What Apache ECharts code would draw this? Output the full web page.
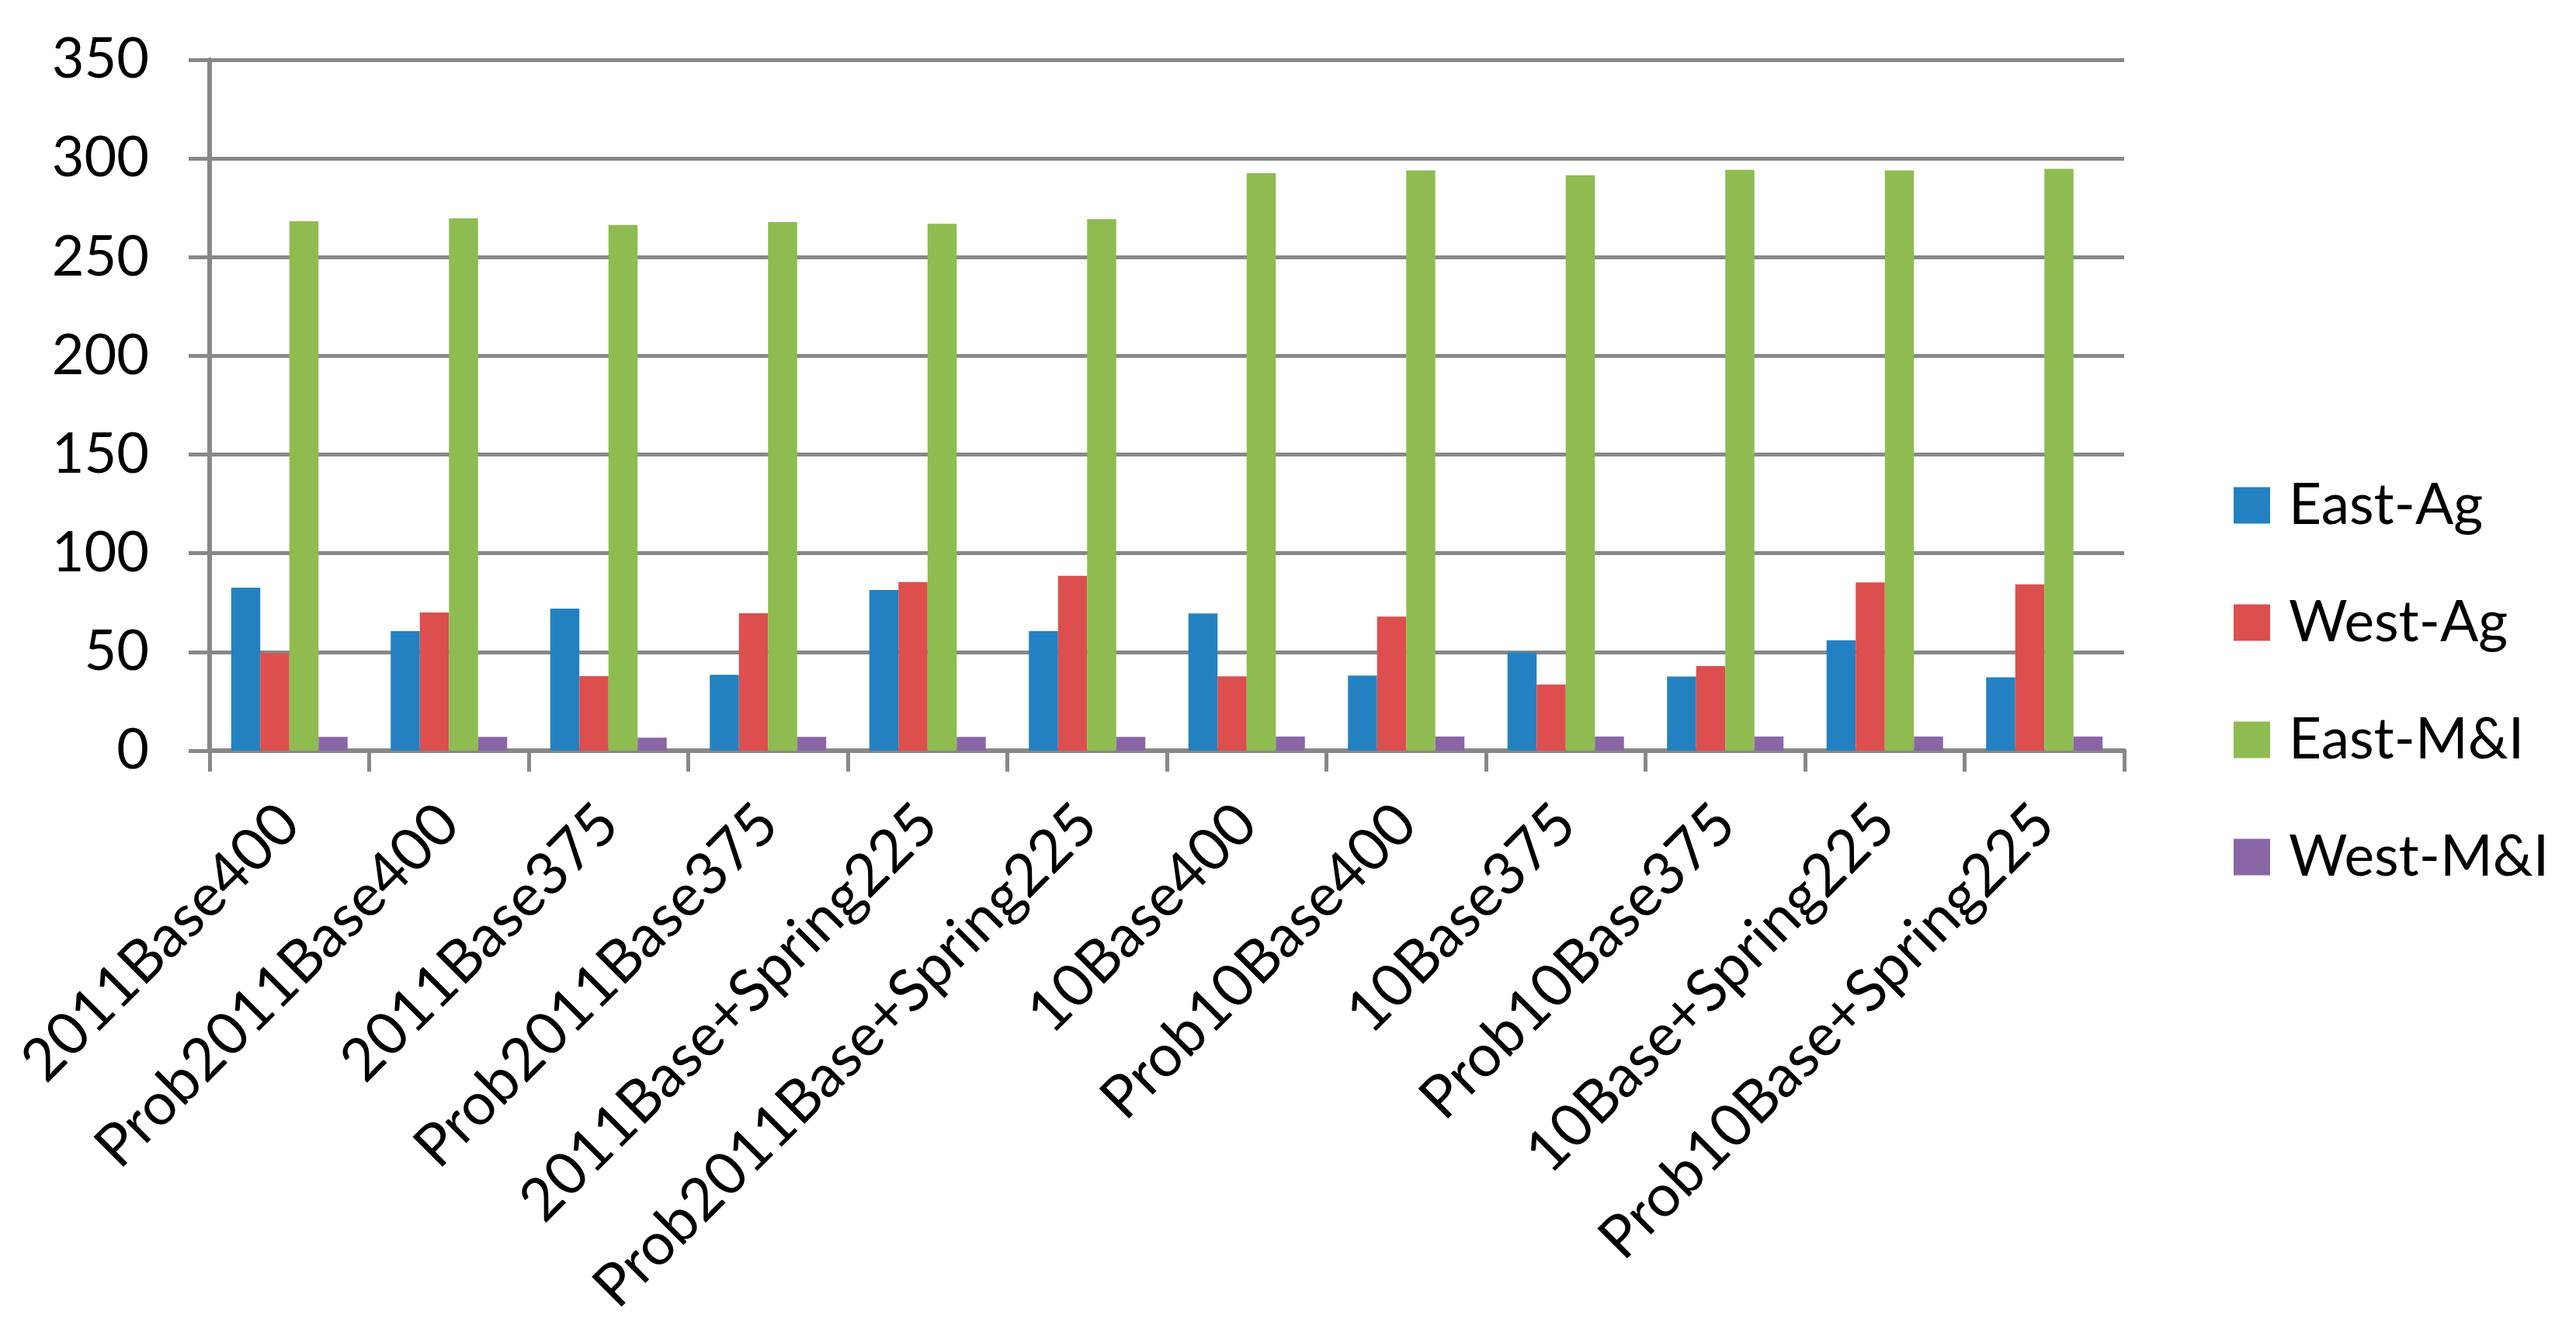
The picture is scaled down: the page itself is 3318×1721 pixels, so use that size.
<!DOCTYPE html>
<html lang="en">

<head>
    <meta charset="UTF-8">
    <script src="https://cdn.jsdelivr.net/npm/echarts@6.0.0/dist/echarts.min.js"></script>
    <title>Water allocation by scenario</title>
    <style>
        html, body { margin: 0; padding: 0; background: #fff; }
        #chart { width: 3318px; height: 1721px; }
    </style>
</head>

<body>
    <div id="chart"></div>

    <script>
        // scenarios on the x axis
        var categories = ['2011Base400', 'Prob2011Base400', '2011Base375', 'Prob2011Base375',
            '2011Base+Spring225', 'Prob2011Base+Spring225', '10Base400', 'Prob10Base400',
            '10Base375', 'Prob10Base375', '10Base+Spring225', 'Prob10Base+Spring225'];

        // values
        var eastAg = [82.6, 60.6, 72.0, 38.4, 81.4, 60.6, 69.5, 38.0, 49.8, 37.6, 55.9, 37.2];
        var westAg = [49.5, 70.0, 37.8, 69.6, 85.4, 88.6, 37.7, 67.9, 33.5, 42.9, 85.2, 84.3];
        var eastMI = [268.2, 269.7, 266.3, 267.8, 266.9, 269.3, 292.6, 294.0, 291.5, 294.3, 294.0, 294.7];
        var westMI = [7.0, 7.0, 6.6, 7.0, 7.0, 7.0, 7.2, 7.2, 7.2, 7.2, 7.2, 7.2];

        var seriesNames = ['East-Ag', 'West-Ag', 'East-M&I', 'West-M&I'];
        var colors = ['#2481c1', '#dc4f4e', '#8ebc51', '#8a66a6'];

        var font = 'Lato';
        var gray = '#888888';

        function bar(name, data, color) {
            return {
                name: name,
                type: 'bar',
                data: data,
                barGap: '0%',
                barCategoryGap: '27%',
                itemStyle: { color: color }
            };
        }

        var myChart = echarts.init(document.getElementById('chart'));
        var option = {
            animation: false,
            backgroundColor: '#fff',
            textStyle: { fontFamily: font },
            grid: {
                left: 270,
                right: 582,
                top: 77,
                bottom: 754,
                containLabel: false
            },
            legend: {
                orient: 'vertical',
                left: 2872,
                top: 606,
                icon: 'rect',
                itemWidth: 47,
                itemHeight: 47,
                itemGap: 71,
                data: seriesNames,
                textStyle: {
                    fontFamily: font,
                    fontSize: 73,
                    color: '#000',
                    lineHeight: 80,
                    padding: [0, 0, 0, 19]
                }
            },
            xAxis: {
                type: 'category',
                data: categories,
                axisLine: { lineStyle: { color: gray, width: 6 } },
                axisTick: { show: true, length: 27, lineStyle: { color: gray, width: 5 } },
                axisLabel: {
                    rotate: 45,
                    interval: 0,
                    margin: 82,
                    fontFamily: font,
                    fontSize: 76,
                    color: '#000'
                }
            },
            yAxis: {
                type: 'value',
                min: 0,
                max: 350,
                interval: 50,
                axisLine: { show: true, lineStyle: { color: gray, width: 6 } },
                axisTick: { show: true, length: 27, lineStyle: { color: gray, width: 5 } },
                splitLine: { show: true, lineStyle: { color: gray, width: 5 } },
                axisLabel: {
                    margin: 78,
                    fontFamily: font,
                    fontSize: 72,
                    color: '#000'
                }
            },
            series: [
                bar(seriesNames[0], eastAg, colors[0]),
                bar(seriesNames[1], westAg, colors[1]),
                bar(seriesNames[2], eastMI, colors[2]),
                bar(seriesNames[3], westMI, colors[3])
            ]
        };
        myChart.setOption(option);
    </script>

</body>

</html>
